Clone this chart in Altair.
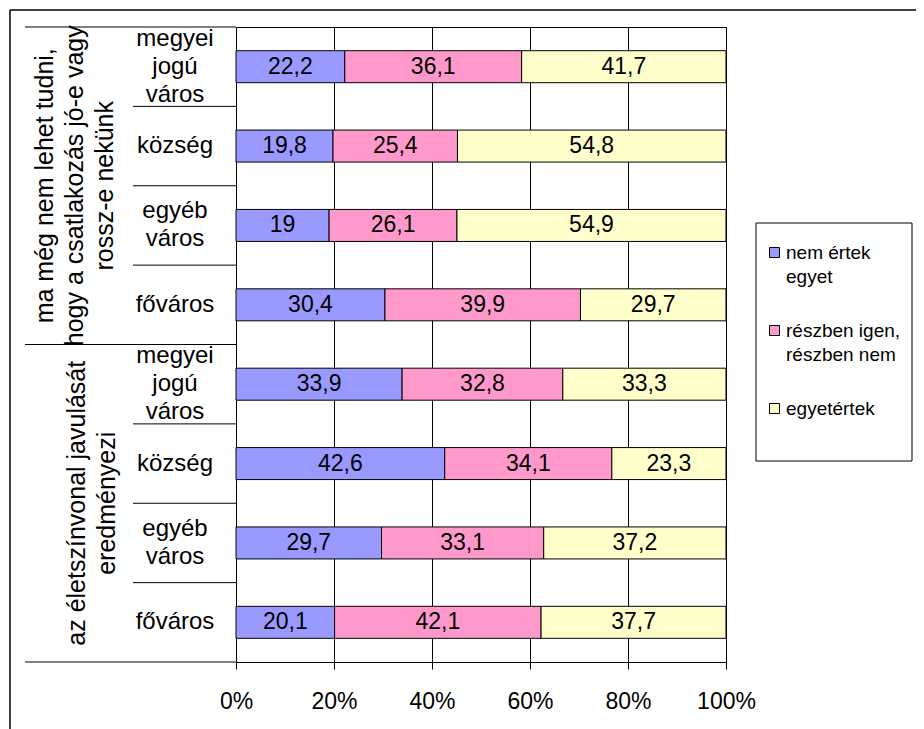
import altair as alt
import pandas as pd

# ---- data ----
groups = [
    "ma még nem lehet tudni,|hogy a csatlakozás jó-e vagy|rossz-e nekünk",
    "az életszínvonal javulását|eredményezi",
]
categories = ["megyei|jogú|város", "község", "egyéb|város", "főváros"]
series = ["nem értek|egyet", "részben igen,|részben nem", "egyetértek"]
colors = ["#9999FF", "#FF99CC", "#FFFFCC"]

# rows top to bottom: group 1 (4 categories), group 2 (4 categories)
nem_ertek_egyet = [22.2, 19.8, 19, 30.4, 33.9, 42.6, 29.7, 20.1]
reszben = [36.1, 25.4, 26.1, 39.9, 32.8, 34.1, 33.1, 42.1]
egyetertek = [41.7, 54.8, 54.9, 29.7, 33.3, 23.3, 37.2, 37.7]
x_ticks = [0, 0.2, 0.4, 0.6, 0.8, 1.0]

# ---- layout ----
W, H = 490, 635
STEP = H / 8
FONT = "Liberation Sans"
ROW_LH = 28
ROW_IDS = list(range(8))
GROUP_EDGES = [0, 4, 8]
ROW_EDGES = [1, 2, 3, 5, 6, 7]

rows = []
for i in ROW_IDS:
    for s, vals in enumerate([nem_ertek_egyet, reszben, egyetertek]):
        rows.append({"row": i, "series": series[s], "order": s, "value": vals[i]})
df = pd.DataFrame(rows)

cat_df = pd.DataFrame({"row": ROW_IDS, "cat": categories * 2})
cat_df["nlines"] = cat_df["cat"].str.count(r"\|") + 1
one = pd.DataFrame({"a": [0]})


def yscale():
    return alt.Scale(domain=ROW_IDS, paddingInner=0, paddingOuter=0)


xscale = alt.Scale(domain=[0, 1], nice=False)

bars = alt.Chart(df).transform_stack(
    stack="value", groupby=["row"], as_=["x0", "x1"],
    sort=[alt.SortField("order")], offset="normalize"
).mark_bar(size=32, stroke="black", strokeWidth=1).encode(
    y=alt.Y("row:O", scale=yscale(), axis=None),
    x=alt.X("x0:Q", scale=xscale,
            axis=alt.Axis(values=x_ticks, format=".0%", title=None,
                          grid=True, gridColor="black", gridOpacity=1, gridWidth=1,
                          tickColor="black", tickSize=7, domainColor="black",
                          labelFont=FONT, labelFontSize=23, labelColor="black",
                          labelPadding=21, labelFlush=False)),
    x2="x1:Q",
    color=alt.Color("series:N",
                    scale=alt.Scale(domain=series, range=colors),
                    legend=alt.Legend(
                        title=None, orient="none", legendX=529, legendY=216,
                        symbolType="square", symbolSize=100,
                        symbolStrokeColor="black", symbolStrokeWidth=1,
                        labelFont=FONT, labelFontSize=19, labelColor="black",
                        labelOffset=2, labelLimit=300, padding=0, rowPadding=34,
                        labelBaseline="middle",
                        labelExpr="split(datum.label, '|')")),
    order=alt.Order("order:Q"),
)

bar_text = alt.Chart(df).transform_stack(
    stack="value", groupby=["row"], as_=["x0", "x1"],
    sort=[alt.SortField("order")], offset="normalize"
).transform_calculate(
    mid="(datum.x0 + datum.x1) / 2",
    lbl="replace(toString(datum.value), '.', ',')"
).mark_text(font=FONT, fontSize=23, color="black", baseline="middle").encode(
    y=alt.Y("row:O", scale=yscale(), axis=None),
    x=alt.X("mid:Q", scale=xscale),
    text="lbl:N",
)


def row_label_layer(n):
    return alt.Chart(cat_df).transform_filter(
        alt.datum.nlines == n
    ).transform_calculate(
        lines="split(datum.cat, '|')"
    ).mark_text(font=FONT, fontSize=24, color="black", align="center",
                baseline="middle", lineHeight=ROW_LH,
                dy=-(n - 1) * ROW_LH / 2).encode(
        y=alt.Y("row:O", scale=yscale(), axis=None),
        x=alt.value(-61),
        text="lines:N",
    )


g1 = pd.DataFrame({"row": [1], "g": [groups[0]]})
g2 = pd.DataFrame({"row": [5], "g": [groups[1]]})


def group_layer(d, x_first, lh):
    return alt.Chart(d).transform_calculate(
        lines="split(datum.g, '|')"
    ).mark_text(font=FONT, fontSize=25, color="black", align="center",
                baseline="middle", angle=270, lineHeight=lh,
                yOffset=STEP / 2).encode(
        y=alt.Y("row:O", scale=yscale(), axis=None),
        x=alt.value(x_first),
        text="lines:N",
    )


group1 = group_layer(g1, -191, 30)
group2 = group_layer(g2, -159, 30)

edge_scale = alt.Scale(domain=[0, 8], nice=False, zero=False)

# long separators at the group boundaries
sep_long = alt.Chart(pd.DataFrame({"b": GROUP_EDGES})).mark_rule(
    color="black", strokeWidth=1).encode(
    x=alt.value(-211), x2=alt.value(0),
    y=alt.Y("b:Q", scale=edge_scale, axis=None),
)
# short separators between categories
sep_short = alt.Chart(pd.DataFrame({"b": ROW_EDGES})).mark_rule(
    color="black", strokeWidth=1).encode(
    x=alt.value(-103), x2=alt.value(0),
    y=alt.Y("b:Q", scale=edge_scale, axis=None),
)

outer_left = alt.Chart(one).mark_rule(color="black", strokeWidth=1.5).encode(
    x=alt.value(-226), y=alt.value(-17), y2=alt.value(720))
outer_top = alt.Chart(one).mark_rule(color="black", strokeWidth=1.5).encode(
    x=alt.value(-226), x2=alt.value(700), y=alt.value(-17))

legend_box = alt.Chart(one).mark_rect(fill="white", stroke="black", strokeWidth=1).encode(
    x=alt.value(520), x2=alt.value(676), y=alt.value(196), y2=alt.value(434))

chart = alt.layer(
    outer_left, outer_top, legend_box, sep_long, sep_short, bars, bar_text,
    row_label_layer(1), row_label_layer(2), row_label_layer(3), group1, group2
).resolve_scale(y="independent").properties(
    width=W, height=H,
    autosize=alt.AutoSizeParams(type="none"),
    padding={"left": 228, "top": 19, "right": 190, "bottom": 67},
).configure(
    background="white",
    view=alt.ViewConfig(stroke="black", strokeWidth=1),
    style={"guide-label": {"lineHeight": 24}},
)

chart.save("out.html", embed_options={"renderer": "svg", "actions": False})
